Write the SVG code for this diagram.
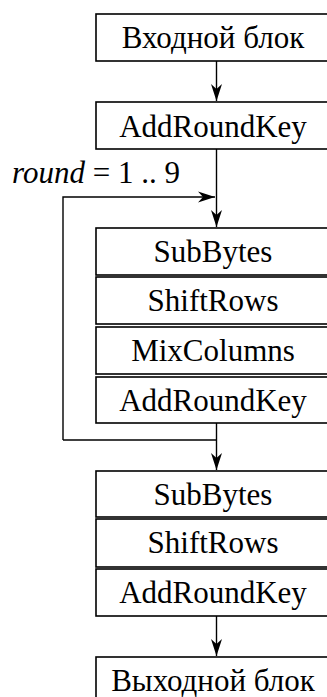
<svg xmlns="http://www.w3.org/2000/svg" width="327" height="697" viewBox="0 0 327 697">
<style>
.box{fill:#fff;stroke:#000;stroke-width:1.6}
.c{fill:none;stroke:#000;stroke-width:1.4}
</style>
<defs>
<marker id="ah" markerUnits="userSpaceOnUse" viewBox="-18 -7 19 14" markerWidth="19" markerHeight="14" refX="0" refY="0" orient="auto">
<path d="M0,0 L-17,-5.5 L-12,0 L-17,5.5 Z" fill="#000"/>
</marker>
</defs>
<rect width="327" height="697" fill="#fff"/>
<g id="connectors">
<line class="c" x1="216.5" y1="61" x2="216.5" y2="101" marker-end="url(#ah)"/>
<line class="c" x1="216.5" y1="149" x2="216.5" y2="227" marker-end="url(#ah)"/>
<polyline class="c" points="63,440 63,197 215,197" marker-end="url(#ah)"/>
<line class="c" x1="63" y1="440" x2="216.5" y2="440"/>
<line class="c" x1="216.5" y1="423" x2="216.5" y2="470" marker-end="url(#ah)"/>
<line class="c" x1="216.5" y1="616" x2="216.5" y2="656" marker-end="url(#ah)"/>
</g>
<g id="n1"><rect class="box" x="96" y="14" width="236" height="47"/><text font-family="Liberation Serif" font-size="31" text-anchor="middle" x="213" y="48">Входной блок</text></g>
<g id="n2"><rect class="box" x="96" y="102" width="236" height="47"/><text font-family="Liberation Serif" font-size="31" text-anchor="middle" x="213" y="137">AddRoundKey</text></g>
<g id="label"><text font-family="Liberation Serif" font-size="31" x="12" y="183"><tspan font-style="italic">round</tspan> = 1 .. 9</text></g>
<g id="n3"><rect class="box" x="96" y="228" width="236" height="47"/><text font-family="Liberation Serif" font-size="31" text-anchor="middle" x="213" y="262">SubBytes</text></g>
<g id="n4"><rect class="box" x="96" y="277" width="236" height="47"/><text font-family="Liberation Serif" font-size="31" text-anchor="middle" x="213" y="311">ShiftRows</text></g>
<g id="n5"><rect class="box" x="96" y="327" width="236" height="47"/><text font-family="Liberation Serif" font-size="31" text-anchor="middle" x="213" y="361">MixColumns</text></g>
<g id="n6"><rect class="box" x="96" y="377" width="236" height="46"/><text font-family="Liberation Serif" font-size="31" text-anchor="middle" x="213" y="411">AddRoundKey</text></g>
<g id="n7"><rect class="box" x="96" y="471" width="236" height="46"/><text font-family="Liberation Serif" font-size="31" text-anchor="middle" x="213" y="505">SubBytes</text></g>
<g id="n8"><rect class="box" x="96" y="519" width="236" height="48"/><text font-family="Liberation Serif" font-size="31" text-anchor="middle" x="213" y="553">ShiftRows</text></g>
<g id="n9"><rect class="box" x="96" y="569" width="236" height="47"/><text font-family="Liberation Serif" font-size="31" text-anchor="middle" x="213" y="603">AddRoundKey</text></g>
<g id="n10"><rect class="box" x="96" y="657" width="236" height="50"/><text font-family="Liberation Serif" font-size="31" text-anchor="middle" x="213" y="691">Выходной блок</text></g>
</svg>
